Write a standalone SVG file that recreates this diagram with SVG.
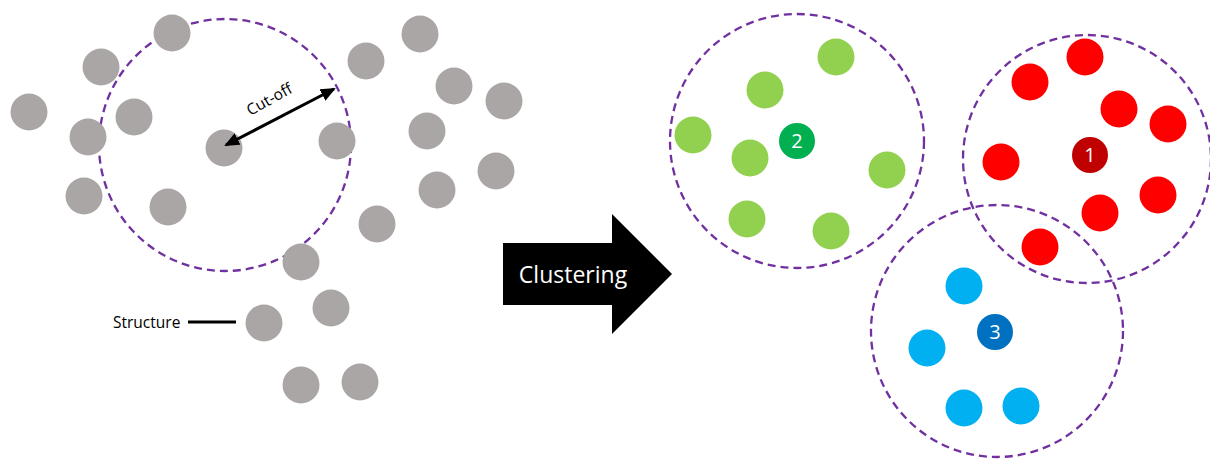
<svg xmlns="http://www.w3.org/2000/svg" width="1210" height="459" viewBox="0 0 1210 459">
<style>
.g{fill:#ABA6A6}
.gr{fill:#92D050}
.rd{fill:#FF0000}
.bl{fill:#00B0F0}
.ring{fill:none;stroke:#7030A0;stroke-width:2.3;stroke-dasharray:8 5}
.num{font-family:"Open Sans","Liberation Sans",sans-serif;font-size:20px;fill:#fff;text-anchor:middle}
.lbl{font-family:"Open Sans","Liberation Sans",sans-serif;font-size:15.5px;fill:#000}
</style>
<defs>
<marker id="ah" markerWidth="15" markerHeight="13" refX="13" refY="6.5" orient="auto-start-reverse" markerUnits="userSpaceOnUse">
<path d="M0,0 L15,6.5 L0,13 Z" fill="#000"/>
</marker>
</defs>
<rect width="1210" height="459" fill="#fff"/>
<g id="rings">
<circle class="ring" cx="225" cy="145" r="126"/>
<circle class="ring" cx="797" cy="141" r="127"/>
<circle class="ring" cx="1087" cy="159" r="124"/>
<circle class="ring" cx="997" cy="331" r="126"/>
</g>
<g id="structures">
<circle class="g" cx="172" cy="33" r="18.5"/>
<circle class="g" cx="101" cy="67" r="18.5"/>
<circle class="g" cx="29" cy="112" r="18.5"/>
<circle class="g" cx="134" cy="117" r="18.5"/>
<circle class="g" cx="88" cy="137" r="18.5"/>
<circle class="g" cx="224" cy="148" r="18.5"/>
<circle class="g" cx="337" cy="141" r="18.5"/>
<circle class="g" cx="84" cy="196" r="18.5"/>
<circle class="g" cx="168" cy="207" r="18.5"/>
<circle class="g" cx="366" cy="61" r="18.5"/>
<circle class="g" cx="420" cy="34" r="18.5"/>
<circle class="g" cx="454" cy="86" r="18.5"/>
<circle class="g" cx="504" cy="101" r="18.5"/>
<circle class="g" cx="427" cy="131" r="18.5"/>
<circle class="g" cx="496" cy="171" r="18.5"/>
<circle class="g" cx="437" cy="190" r="18.5"/>
<circle class="g" cx="377" cy="224" r="18.5"/>
<circle class="g" cx="301" cy="262" r="18.5"/>
<circle class="g" cx="331" cy="308" r="18.5"/>
<circle class="g" cx="264" cy="323" r="18.5"/>
<circle class="g" cx="301" cy="385" r="18.5"/>
<circle class="g" cx="360" cy="382" r="18.5"/>
</g>
<g id="connectors">
<line x1="226" y1="145" x2="334" y2="89" stroke="#000" stroke-width="3" marker-start="url(#ah)" marker-end="url(#ah)"/>
<line x1="188" y1="322" x2="236" y2="322" stroke="#000" stroke-width="3"/>
</g>
<g id="labels">
<text class="lbl" x="272" y="104" text-anchor="middle" transform="rotate(-29 272 104)">Cut-off</text>
<text class="lbl" x="113" y="328">Structure</text>
</g>
<g id="clustering-arrow">
<path d="M503,243 L612,243 L612,214 L672,274 L612,334 L612,305 L503,305 Z" fill="#000"/>
<text x="573" y="283" text-anchor="middle" font-family="'Open Sans','Liberation Sans',sans-serif" font-size="23" fill="#fff">Clustering</text>
</g>
<g id="cluster-2">
<circle class="gr" cx="836" cy="57" r="18.5"/>
<circle class="gr" cx="765" cy="90" r="18.5"/>
<circle class="gr" cx="693" cy="135" r="18.5"/>
<circle class="gr" cx="750" cy="158" r="18.5"/>
<circle class="gr" cx="887" cy="170" r="18.5"/>
<circle class="gr" cx="747" cy="219" r="18.5"/>
<circle class="gr" cx="831" cy="231" r="18.5"/>
<circle cx="797" cy="141" r="18" fill="#00B050"/>
<text class="num" x="797" y="148">2</text>
</g>
<g id="cluster-1">
<circle class="rd" cx="1085" cy="57" r="18.5"/>
<circle class="rd" cx="1030" cy="82" r="18.5"/>
<circle class="rd" cx="1119" cy="109" r="18.5"/>
<circle class="rd" cx="1168" cy="124" r="18.5"/>
<circle class="rd" cx="1001" cy="162" r="18.5"/>
<circle class="rd" cx="1158" cy="195" r="18.5"/>
<circle class="rd" cx="1100" cy="213" r="18.5"/>
<circle class="rd" cx="1040" cy="247" r="18.5"/>
<circle cx="1090" cy="155" r="18" fill="#C00000"/>
<text class="num" x="1090" y="162">1</text>
</g>
<g id="cluster-3">
<circle class="bl" cx="964" cy="286" r="18.5"/>
<circle class="bl" cx="927" cy="348" r="18.5"/>
<circle class="bl" cx="964" cy="408" r="18.5"/>
<circle class="bl" cx="1021" cy="406" r="18.5"/>
<circle cx="995" cy="332" r="18" fill="#0070C0"/>
<text class="num" x="995" y="339">3</text>
</g>
</svg>
